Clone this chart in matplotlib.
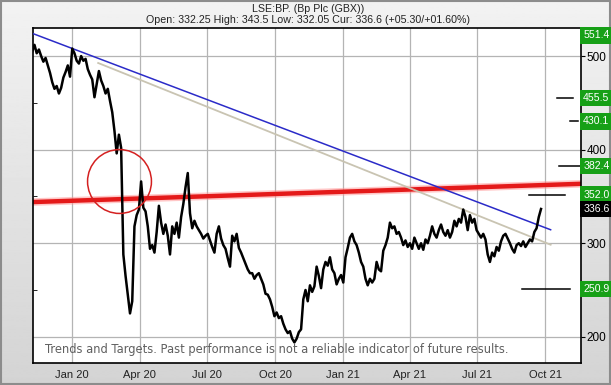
import numpy as np
import pandas as pd
import matplotlib
matplotlib.use('Agg')
import matplotlib.pyplot as plt
from matplotlib.patches import Rectangle

# BP share price (GBX), one reading every 3 days
start_date = '2019-11-08'
prices = [
    505, 512, 503, 507, 500, 494, 498, 490, 482, 472,
    465, 468, 460, 466, 477, 483, 490, 478, 508, 503,
    495, 492, 500, 495, 497, 486, 480, 475, 456, 470,
    484, 474, 468, 460, 465, 452, 440, 420, 396, 416,
    402, 288, 265, 245, 225, 238, 318, 330, 336, 366,
    338, 334, 318, 294, 298, 290, 312, 340, 322, 310,
    320, 308, 288, 318, 310, 322, 306, 328, 342, 360,
    375, 332, 316, 324, 318, 314, 310, 305, 308, 310,
    303, 296, 290, 310, 318, 305, 298, 294, 284, 275,
    308, 302, 310, 295, 290, 284, 278, 272, 268, 268,
    262, 266, 268, 262, 256, 246, 245, 240, 232, 222,
    226, 220, 222, 214, 208, 204, 206, 198, 194, 198,
    205, 208, 240, 250, 238, 255, 248, 254, 275, 265,
    252, 272, 280, 276, 285, 272, 268, 256, 262, 266,
    258, 285, 295, 306, 310, 302, 298, 290, 280, 275,
    262, 255, 262, 258, 262, 280, 272, 270, 292, 298,
    306, 322, 316, 318, 310, 312, 306, 298, 303, 296,
    300, 294, 306, 300, 294, 300, 293, 304, 300, 308,
    318, 310, 306, 314, 320, 312, 308, 314, 306, 312,
    324, 318, 326, 322, 336, 328, 314, 330, 322, 326,
    314, 310, 306, 310, 304, 288, 280, 290, 286, 296,
    292, 302, 308, 310, 305, 300, 294, 290, 298, 300,
    297, 302, 296, 300, 304, 302, 312, 316, 328, 336.6,
]
dates = pd.date_range(start_date, periods=len(prices), freq='3D')

# trend lines: (start date, end date), (start value, end value)
blue_dates, blue_vals = ['2019-11-09', '2021-10-08'], [524, 314.4]
grey_dates, grey_vals = ['2020-02-05', '2021-10-08'], [492.6, 298.4]
red_dates, red_vals = ['2019-11-09', '2021-11-18'], [344, 363.5]
circle_date, circle_val = '2020-03-04', 367

# targets on the right
target_levels = [551.4, 455.5, 430.1, 382.4, 352.0, 250.9]
target_from = [None, '2021-10-17', '2021-11-03', '2021-10-19', '2021-09-09', '2021-08-31']
target_to = [None, '2021-11-07', '2021-11-14', '2021-11-18', '2021-10-27', '2021-11-03']
current_price = 336.6

tick_dates = pd.date_range('2020-01-01', '2021-10-01', freq='QS')
tick_labels = ['Jan 20', 'Apr 20', 'Jul 20', 'Oct 20', 'Jan 21', 'Apr 21', 'Jul 21', 'Oct 21']

plt.rcParams['font.family'] = ['Liberation Sans', 'DejaVu Sans']

fig = plt.figure(figsize=(6.11, 3.85), dpi=100)

# grey bevelled frame
bg = fig.add_axes([0, 0, 1, 1], zorder=-10)
grad = np.linspace(0.95, 0.83, 256).reshape(-1, 1)
bg.imshow(grad, cmap='gray', vmin=0, vmax=1, aspect='auto', extent=[0, 1, 0, 1], origin='upper')
bg.add_patch(Rectangle((0.002, 0.003), 0.996, 0.994, fill=False, ec='#8c8c8c', lw=1.5))
bg.set_xlim(0, 1)
bg.set_ylim(0, 1)
bg.axis('off')

ax = fig.add_axes([33 / 611, 22 / 385, 548 / 611, 335 / 385])
ax.set_facecolor('white')

ax.plot(pd.to_datetime(red_dates), red_vals, color='#ff9090', lw=5.5, alpha=0.5, solid_capstyle='butt', zorder=2)
ax.plot(pd.to_datetime(red_dates), red_vals, color='#e41a1a', lw=3.2, solid_capstyle='butt', zorder=2)
ax.plot(pd.to_datetime(grey_dates), grey_vals, color='#c9c4b2', lw=1.3, zorder=2)
ax.plot(pd.to_datetime(blue_dates), blue_vals, color='#2b2bc8', lw=1.1, zorder=3)
ax.plot(dates, prices, color='black', lw=1.8, zorder=4)
ax.plot(pd.to_datetime([circle_date]), [circle_val], marker='o', ms=46, mfc='none',
        mec='#d42020', mew=1.1, zorder=5)

ylo, yhi = 172, 530
ax.set_ylim(ylo, yhi)
ax.set_xlim(pd.Timestamp('2019-11-09'), pd.Timestamp('2021-11-18'))

for lvl, d0, d1 in zip(target_levels, target_from, target_to):
    if d0 is not None:
        ax.plot(pd.to_datetime([d0, d1]), [lvl, lvl], color='black', lw=1.1, zorder=3)
    ylab = min(lvl, yhi - 8)
    ax.annotate(f'{lvl:.1f}', xy=(1.0, ylab), xycoords=('axes fraction', 'data'),
                xytext=(1.5, 0), textcoords='offset points', va='center', ha='left',
                fontsize=7.6, color='white',
                bbox=dict(boxstyle='square,pad=0.3', fc='#17a017', ec='none'))
ax.annotate(f'{current_price:.1f}', xy=(1.0, current_price), xycoords=('axes fraction', 'data'),
            xytext=(1.5, 0), textcoords='offset points', va='center', ha='left',
            fontsize=7.6, color='white',
            bbox=dict(boxstyle='square,pad=0.3', fc='black', ec='none'))

ax.set_xticks(tick_dates)
ax.set_xticklabels(tick_labels, fontsize=8, color='#222222')
ax.tick_params(axis='x', length=0, pad=5)

ax.yaxis.tick_right()
ax.set_yticks([200, 300, 400, 500])
ax.set_yticks([250, 350, 450], minor=True)
ax.tick_params(axis='y', which='major', length=3, pad=1, labelsize=8.5, direction='out')
ax.tick_params(axis='y', which='minor', left=True, right=False, direction='in', length=3)
ax.grid(True, color='#b4b4b4', lw=0.9)
for sp in ax.spines.values():
    sp.set_color('black')
    sp.set_linewidth(1.2)

ax.text(0.022, 0.03, 'Trends and Targets. Past performance is not a reliable indicator of future results.',
        transform=ax.transAxes, fontsize=8.3, color='#606060', family='DejaVu Sans', zorder=6)

fig.text(0.504, 1 - 8.5 / 385, 'LSE:BP. (Bp Plc (GBX))', ha='center', va='center', fontsize=7.7, color='#222222')
fig.text(0.504, 1 - 20 / 385, 'Open: 332.25 High: 343.5 Low: 332.05 Cur: 336.6 (+05.30/+01.60%)',
         ha='center', va='center', fontsize=7.7, color='#222222')

fig.savefig('out.png', dpi=100)
